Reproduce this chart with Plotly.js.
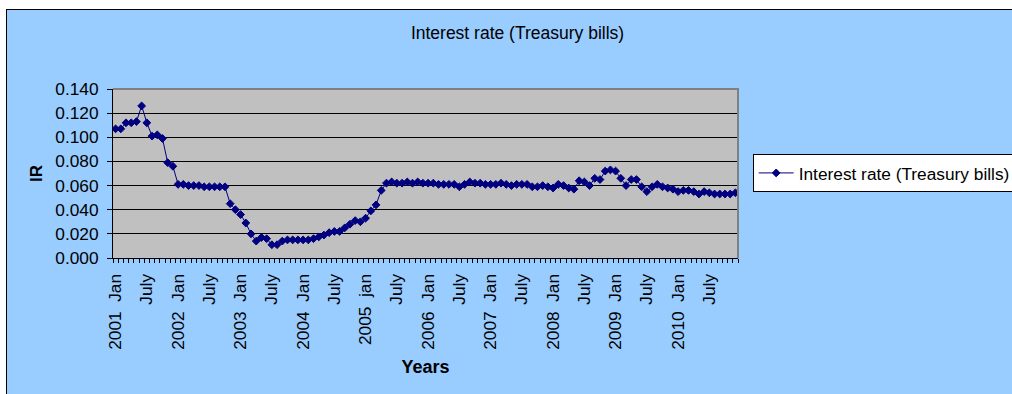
<!DOCTYPE html>
<html>
<head>
<meta charset="utf-8">
<script src="https://cdn.plot.ly/plotly-3.0.1.min.js"></script>
<style>
  html, body { margin: 0; padding: 0; background: #ffffff; width: 1012px; height: 394px; overflow: hidden; }
  #frame { position: absolute; left: 6px; top: 9px; width: 1100px; height: 500px;
           border-left: 1px solid #000; border-top: 1px solid #000; background: #99CCFF; }
  #chart { position: absolute; left: 0; top: 0; width: 1040px; height: 384px; }
</style>
</head>
<body>
<div id="frame"><div id="chart"></div></div>
<script>
// Monthly Treasury bill interest rate, 2001 Jan .. 2010 Dec
const rates = [
  0.107, 0.107, 0.112, 0.112, 0.113, 0.126, 0.112, 0.101, 0.102, 0.099, 0.079, 0.076,
  0.061, 0.061, 0.060, 0.060, 0.060, 0.059, 0.059, 0.059, 0.059, 0.059, 0.045, 0.040,
  0.036, 0.029, 0.020, 0.014, 0.017, 0.016, 0.011, 0.011, 0.014, 0.015, 0.015, 0.015,
  0.015, 0.015, 0.016, 0.0175, 0.019, 0.021, 0.022, 0.022, 0.025, 0.028, 0.031, 0.030,
  0.033, 0.039, 0.044, 0.056, 0.062, 0.063, 0.062, 0.062, 0.063, 0.062, 0.063, 0.062,
  0.062, 0.062, 0.061, 0.061, 0.061, 0.061, 0.059, 0.061, 0.063, 0.062, 0.062, 0.061,
  0.061, 0.061, 0.062, 0.061, 0.060, 0.061, 0.061, 0.061, 0.059, 0.059, 0.060, 0.059,
  0.058, 0.061, 0.060, 0.058, 0.057, 0.064, 0.063, 0.060, 0.066, 0.065, 0.072, 0.073,
  0.072, 0.066, 0.060, 0.065, 0.065, 0.059, 0.055, 0.059, 0.061, 0.059, 0.058, 0.057,
  0.055, 0.056, 0.056, 0.055, 0.053, 0.055, 0.054, 0.053, 0.053, 0.053, 0.053, 0.054
];
const NB = "\u00A0\u00A0";
const tickLabels = [
  "2001" + NB + "Jan", "July", "2002" + NB + "Jan", "July", "2003" + NB + "Jan", "July",
  "2004" + NB + "Jan", "July", "2005" + NB + "jan", "July", "2006" + NB + "Jan", "July",
  "2007" + NB + "Jan", "July", "2008" + NB + "Jan", "July", "2009" + NB + "Jan", "July",
  "2010" + NB + "Jan", "July"
];
const labelStep = 6; // one label every 6 months
const yTicks = [0, 0.02, 0.04, 0.06, 0.08, 0.10, 0.12, 0.14];

const months = rates.map((_, i) => i);
const tickVals = tickLabels.map((_, k) => k * labelStep);

const FONT = "Arial, 'Liberation Sans', sans-serif";
const FS = 17.3;

const trace = {
  type: "scatter",
  mode: "lines+markers",
  name: "Interest rate (Treasury bills)",
  x: months,
  y: rates,
  line: { color: "#000080", width: 1 },
  marker: { symbol: "diamond", size: 6, color: "#000080", line: { color: "#000080", width: 1 } }
};

const layout = {
  width: 1040,
  height: 384,
  margin: { l: 106, r: 309, t: 79, b: 136, pad: 0 },
  paper_bgcolor: "#99CCFF",
  plot_bgcolor: "#C0C0C0",
  font: { family: FONT, size: FS, color: "#000" },
  title: {
    text: "Interest rate (Treasury bills)",
    font: { family: FONT, size: 17.5, color: "#000" },
    xref: "container", yref: "container",
    x: 0.4909, y: 0.94, xanchor: "center", yanchor: "middle"
  },
  showlegend: true,
  legend: {
    x: 1.0235, y: 0.502, xanchor: "left", yanchor: "middle",
    bgcolor: "#ffffff", bordercolor: "#000", borderwidth: 1,
    font: { family: FONT, size: FS, color: "#000" },
    itemwidth: 35
  },
  xaxis: {
    range: [-0.5, rates.length - 0.5],
    tickmode: "array",
    tickvals: tickVals,
    ticktext: tickLabels,
    tickangle: -90,
    ticks: "",
    ticklabelstandoff: 8,
    tickfont: { family: FONT, size: FS, color: "#000" },
    showgrid: false,
    zeroline: false,
    showline: true, linecolor: "#000", linewidth: 1,
    minor: { ticks: "outside", ticklen: 4, tickwidth: 1, tickcolor: "#000", dtick: 1, tick0: -0.5, showgrid: false },
    title: { text: "Years", font: { family: FONT, size: 18, color: "#000", weight: "bold" }, standoff: 11 },
    automargin: false
  },
  yaxis: {
    range: [0, 0.14],
    tickmode: "array",
    tickvals: yTicks,
    ticktext: yTicks.map(v => v.toFixed(3)),
    ticks: "outside", ticklen: 5, tickwidth: 1, tickcolor: "#000",
    ticklabelstandoff: 5,
    tickfont: { family: FONT, size: FS, color: "#000" },
    showgrid: true, gridcolor: "#000", gridwidth: 1,
    zeroline: false,
    showline: true, linecolor: "#000", linewidth: 1,
    title: { text: "IR", font: { family: FONT, size: 17, color: "#000", weight: "bold" }, standoff: 8 },
    automargin: false
  },
  shapes: [
    { type: "path", xref: "paper", yref: "paper", path: "M 0 1 L 1 1 L 1 0",
      line: { color: "#808080", width: 2 }, layer: "above" }
  ]
};

Plotly.newPlot("chart", [trace], layout, { displayModeBar: false, staticPlot: true });
</script>
</body>
</html>
